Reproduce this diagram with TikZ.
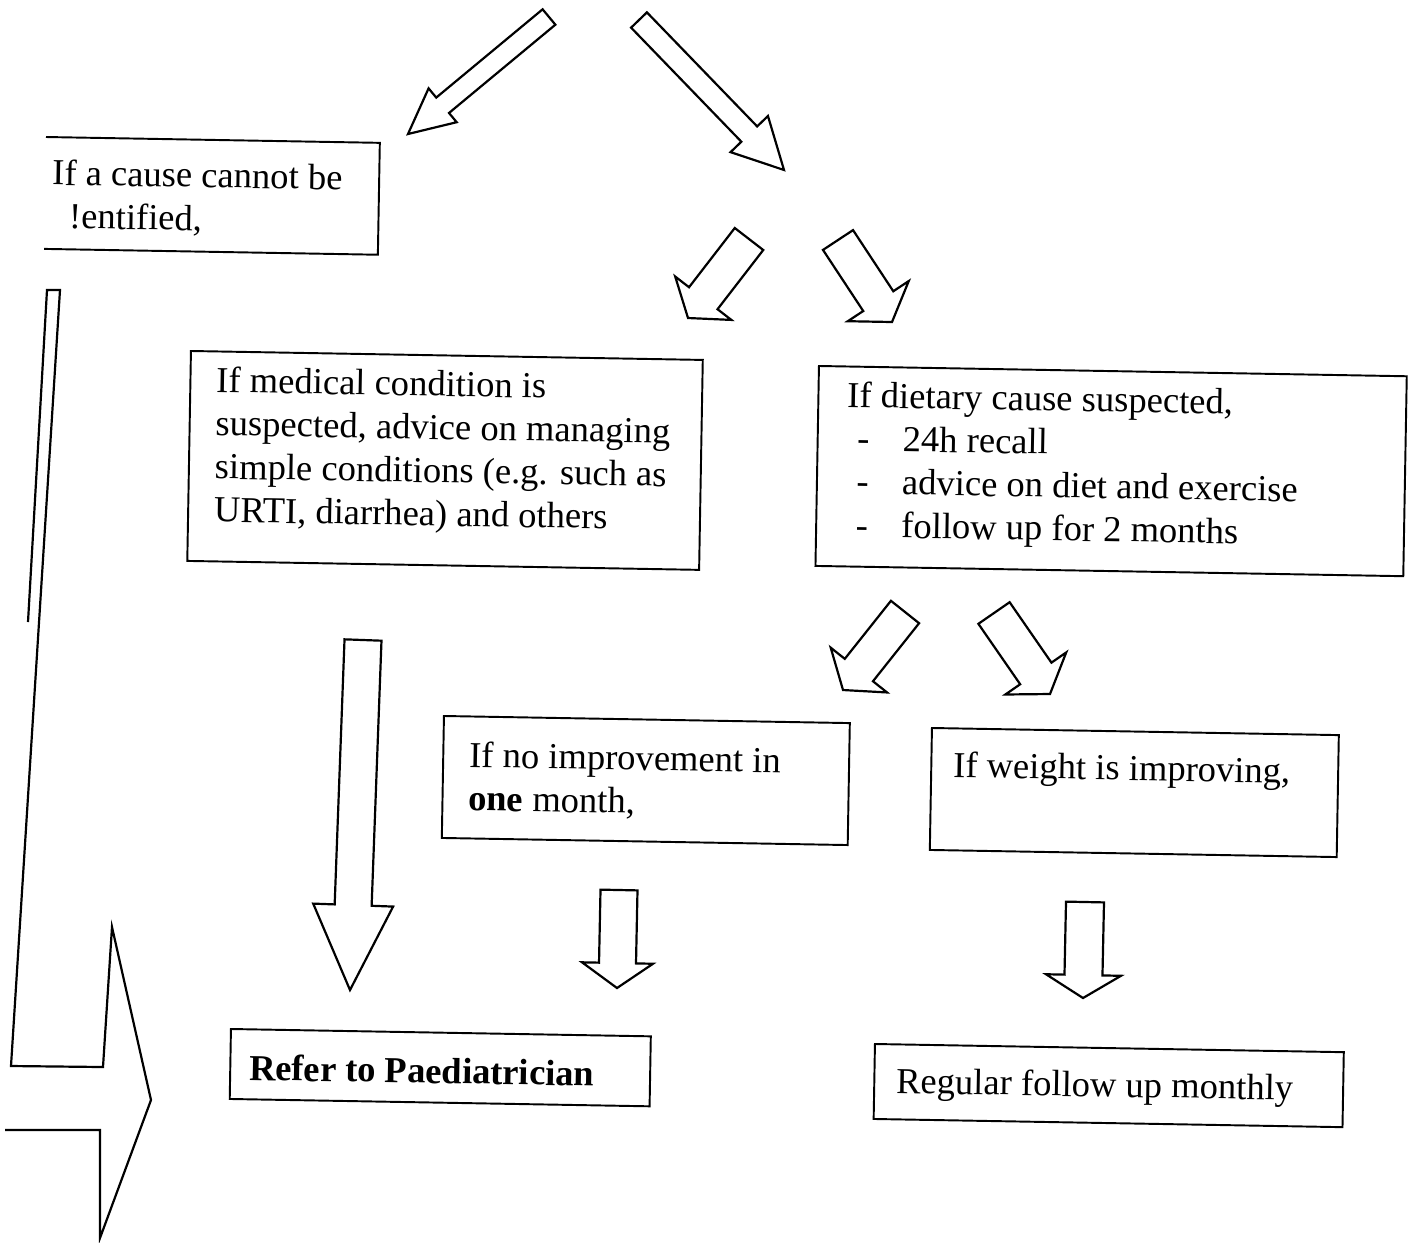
\documentclass[tikz,border=0pt]{standalone}
\usepackage{fontspec}
\setmainfont{Liberation Serif}
\usetikzlibrary{calc}

\newcommand{\boxtext}[5]{\parbox[c][#2][t]{#1}{\raggedright\leftskip=#3\relax\vspace*{#4}#5}}
\newcommand{\dashline}{\hspace*{6pt}\makebox[26pt][l]{-}}
\newcommand{\hollowarrow}[5]{%
  \coordinate (neck) at ($(#2)!#5!(#1)$);
  \draw[blockarr] ($(#1)!#3!90:(#2)$) -- ($(neck)!#3!90:(#2)$) -- ($(neck)!#4!90:(#2)$) -- (#2)
    -- ($(neck)!#4!-90:(#2)$) -- ($(neck)!#3!-90:(#2)$) -- ($(#1)!#3!-90:(#2)$) -- cycle;}

\begin{document}
\begin{tikzpicture}
  [x=0.02cm, y=-0.02cm,
   box/.style={draw, line width=1.1pt, inner sep=0pt, anchor=north west, rotate=-1,
     font=\fontsize{20.8}{24.6}\selectfont},
   blockarr/.style={draw, line width=1.25pt, line join=miter}]
  \useasboundingbox (0,0) rectangle (1415,1242);

  \node[box, draw=none] (cause) at (46,137) {\boxtext{6.64cm}{2.2cm}{0.12cm}{0.42cm}{If a cause cannot be\\\hspace*{10pt}!entified,}};
  \node[box] (medical) at (190,350) {\boxtext{10.24cm}{4.2cm}{0.52cm}{0.3cm}{If medical condition is\\suspected, advice on managing\\simple conditions (e.g. such as\\URTI, diarrhea) and others}};
  \node[box] (dietary) at (818,365) {\boxtext{11.76cm}{4cm}{0.58cm}{0.3cm}{If dietary cause suspected,\\\dashline 24h recall\\\dashline advice on diet and exercise\\\dashline follow up for 2 months}};
  \node[box] (noimp) at (443,715) {\boxtext{8.12cm}{2.44cm}{0.52cm}{0.5cm}{If no improvement in\\\textbf{one} month,}};
  \node[box] (weight) at (931,727) {\boxtext{8.14cm}{2.44cm}{0.44cm}{0.46cm}{If weight is improving,}};
  \node[box] (refer) at (230,1028) {\boxtext{8.4cm}{1.4cm}{0.38cm}{0.5cm}{\textbf{Refer to Paediatrician}}};
  \node[box] (regular) at (874,1043) {\boxtext{9.38cm}{1.5cm}{0.44cm}{0.46cm}{Regular follow up monthly}};

  \draw[line width=1.1pt] (cause.north west) -- (cause.north east) -- (cause.south east) -- (cause.south west);

  \coordinate (a1) at (549,17);   \coordinate (a2) at (408,134);
  \coordinate (b1) at (639,20);   \coordinate (b2) at (784,170);
  \coordinate (c1) at (749,239);  \coordinate (c2) at (688,318);
  \coordinate (d1) at (838,240);  \coordinate (d2) at (892,322);
  \coordinate (e1) at (905,612);  \coordinate (e2) at (843,690);
  \coordinate (f1) at (994,613);  \coordinate (f2) at (1050,694);
  \coordinate (g1) at (363,640);  \coordinate (g2) at (350,990);
  \coordinate (h1) at (619,890);  \coordinate (h2) at (617,988);
  \coordinate (i1) at (1085,902); \coordinate (i2) at (1083,998);

  \hollowarrow{a1}{a2}{0.2cm}{0.44cm}{0.9cm}
  \hollowarrow{b1}{b2}{0.22cm}{0.52cm}{1cm}
  \hollowarrow{c1}{c2}{0.36cm}{0.71cm}{0.5cm}
  \hollowarrow{d1}{d2}{0.36cm}{0.73cm}{0.5cm}
  \hollowarrow{e1}{e2}{0.36cm}{0.72cm}{0.51cm}
  \hollowarrow{f1}{f2}{0.38cm}{0.74cm}{0.5cm}
  \hollowarrow{g1}{g2}{0.37cm}{0.8cm}{1.7cm}
  \hollowarrow{h1}{h2}{0.37cm}{0.71cm}{0.5cm}
  \hollowarrow{i1}{i2}{0.38cm}{0.75cm}{0.46cm}

  % long arrow from the cause box down to the referral
  \coordinate (j1) at (47,290);  \coordinate (j2) at (60,290);  \coordinate (jin) at (28,622);
  \coordinate (jc1) at (11,1066); \coordinate (jc2) at (103,1067); \coordinate (jb1) at (112,927);
  \coordinate (jtip) at (151,1100); \coordinate (jb2) at (100,1238);
  \coordinate (jc3) at (100,1130); \coordinate (jc4) at (5,1130);
  \draw[blockarr] (jin) -- (j1) -- (j2) -- (jc1) -- (jc2) -- (jb1) -- (jtip) -- (jb2) -- (jc3) -- (jc4);
\end{tikzpicture}
\end{document}
